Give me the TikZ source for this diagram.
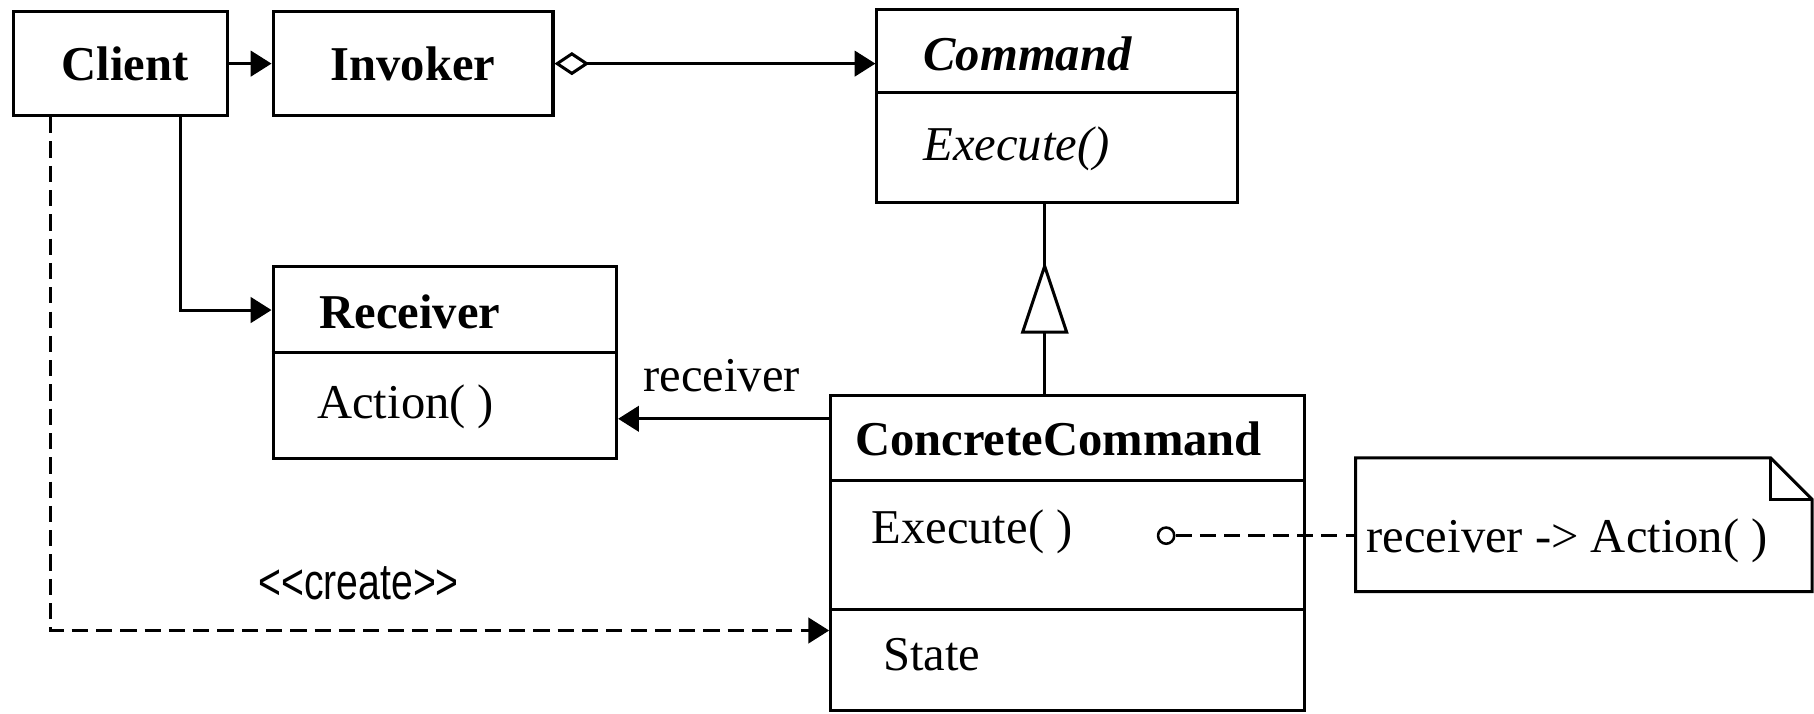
\documentclass[tikz,border=0pt]{standalone}
\usepackage{fontspec}
\usepackage{graphicx}
\setmainfont{Liberation Serif}
\setsansfont[Ligatures=NoCommon]{Liberation Sans}
\usetikzlibrary{arrows.meta}
\tikzset{
  x=1pt, y=-1pt,
  every path/.style={line width=2.6pt},
  box/.style={draw, line width=2.6pt, rectangle, inner sep=0pt},
  txt/.style={inner sep=0pt, font=\fontsize{42}{48}\selectfont},
  title/.style={txt, font=\fontsize{42}{48}\selectfont\bfseries},
  tip/.style={-{Triangle[length=18pt,width=22pt]}},
  dsh/.style={dash pattern=on 14pt off 7pt},
}
\begin{document}
\begin{tikzpicture}
\useasboundingbox (0,0) rectangle (1568,617);
% boxes
\node[box, minimum width=185pt, minimum height=90pt] (Client) at (104.5,55) {};
\node[box, minimum width=242pt, minimum height=90pt] (Invoker) at (357,55) {};
\node[box, minimum width=312pt, minimum height=167pt] (Command) at (914,91.5) {};
\node[box, minimum width=297pt, minimum height=166pt] (Receiver) at (384.5,313) {};
\node[box, minimum width=410pt, minimum height=272pt] (CC) at (923,478) {};
\node[inner sep=0pt, minimum width=392pt, minimum height=113pt] (note) at (1369,453.5) {};
% compartments
\draw (Command.west |- 0,80) -- (Command.east |- 0,80);
\draw (Receiver.west |- 0,305) -- (Receiver.east |- 0,305);
\draw (CC.west |- 0,415) -- (CC.east |- 0,415);
\draw (CC.west |- 0,527) -- (CC.east |- 0,527);
% note with folded corner
\draw (note.south west) -- (note.north west) -- ([xshift=-36pt]note.north east)
      -- ([yshift=-36pt]note.north east) -- (note.south east) -- cycle;
\draw ([xshift=-36pt]note.north east) -- ([xshift=-36pt,yshift=-36pt]note.north east)
      -- ([yshift=-36pt]note.north east);
% texts
\node[title, anchor=base] (tClient) at (108,70) {Client};
\node[title, anchor=base] (tInvoker) at (357,70) {Invoker};
\node[title, anchor=base west] (tCommand) at (797,61) {\itshape Command};
\node[txt, anchor=base west] (tCexec) at (797,139) {\itshape Execute()};
\node[title, anchor=base west] (tReceiver) at (275,284) {Receiver};
\node[txt, anchor=base west] (tAction) at (273,362) {Action( )};
\node[title, anchor=base west] (tCC) at (738,394) {ConcreteCommand};
\node[txt, anchor=base west] (tCCexec) at (752,470) {Execute( )};
\node[txt, anchor=base west] (tState) at (762,580) {State};
\node[txt, anchor=base west] (tNote) at (1180,478) {receiver -{}> Action( )};
\node[txt, anchor=base west] (tRecv) at (555,338) {receiver};
\node[inner sep=0pt, anchor=base west] (tCreate) at (222,518)
  {\scalebox{0.77}[1]{\sffamily\fontsize{44}{50}\selectfont <{}<create>{}>}};
% connectors
\draw[tip] (Client.east) -- (Invoker.west);
\draw[{Diamond[open,length=30pt,width=20pt]}-{Triangle[length=18pt,width=22pt]}]
  (Invoker.east) -- (Command.west |- Invoker.east);
\draw[tip] ([xshift=145pt]Client.south west) |- ([yshift=45pt]Receiver.west);
\draw[tip] ([yshift=116pt]CC.west) coordinate (assocA) -- (assocA -| Receiver.east);
\draw[tip, dsh] ([xshift=33pt]Client.south west) |- ([yshift=-67pt]CC.west);
% generalization
\coordinate (gapex) at (903,230);
\coordinate (gbase) at (903,287);
\draw (gapex |- Command.south) -- (gapex);
\draw (gbase) -- (gbase |- CC.north);
\draw[line join=miter] (gapex) -- ([xshift=-19pt]gbase) -- ([xshift=19pt]gbase) -- cycle;
% note anchor
\node[draw, circle, minimum size=14pt, inner sep=0pt, line width=2.2pt] (dot) at (1008,463) {};
\draw[dsh] (dot.east) -- (dot.east -| note.west);
\end{tikzpicture}
\end{document}
